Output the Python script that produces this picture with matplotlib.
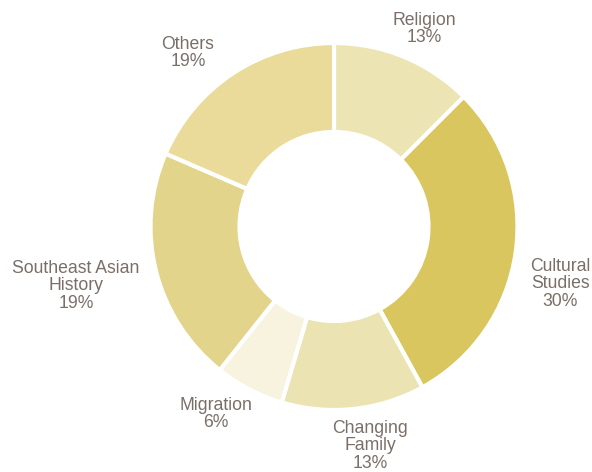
import matplotlib.pyplot as plt

labels = ["Religion", "Cultural\nStudies", "Changing\nFamily", "Migration",
          "Southeast Asian\nHistory", "Others"]
shares = [13, 30, 13, 6, 19, 19]                      # printed percentages
wedge_sizes = [12.5, 29.5, 12.6, 6.1, 20.8, 18.5]     # arc sizes as drawn
colors = ["#EDE4B3", "#DAC65E", "#ECE3B2", "#F7F3DF", "#E3D48C", "#EADB9A"]
# label centres in pixel coordinates (x, y from top)
label_pos = [(424, 29), (560, 284), (370, 446), (216, 414), (76, 286), (188, 53)]

W, H = 592, 472
fig = plt.figure(figsize=(W / 100, H / 100), dpi=100)
# axes box clips the ring slightly on the left and bottom, like the original
x0, y_bot = 152, 408
ax = fig.add_axes([x0 / W, (H - y_bot) / H, (W - x0) / W, y_bot / H])

ax.pie(wedge_sizes, colors=colors, startangle=90, counterclock=False,
       center=(334, H - 226.5), radius=183.5, frame=True,
       wedgeprops=dict(width=89, edgecolor="white", linewidth=3))

for lab, val, (x, y) in zip(labels, shares, label_pos):
    ax.text(x, H - y, f"{lab}\n{val}%", ha="center", va="center",
            fontsize=12.7, color="#7A6F68", family="Liberation Sans",
            linespacing=1.07)

ax.set_xlim(x0, W)
ax.set_ylim(H - y_bot, H)
ax.set_aspect("equal")
ax.axis("off")

fig.savefig("out.png", dpi=100)
